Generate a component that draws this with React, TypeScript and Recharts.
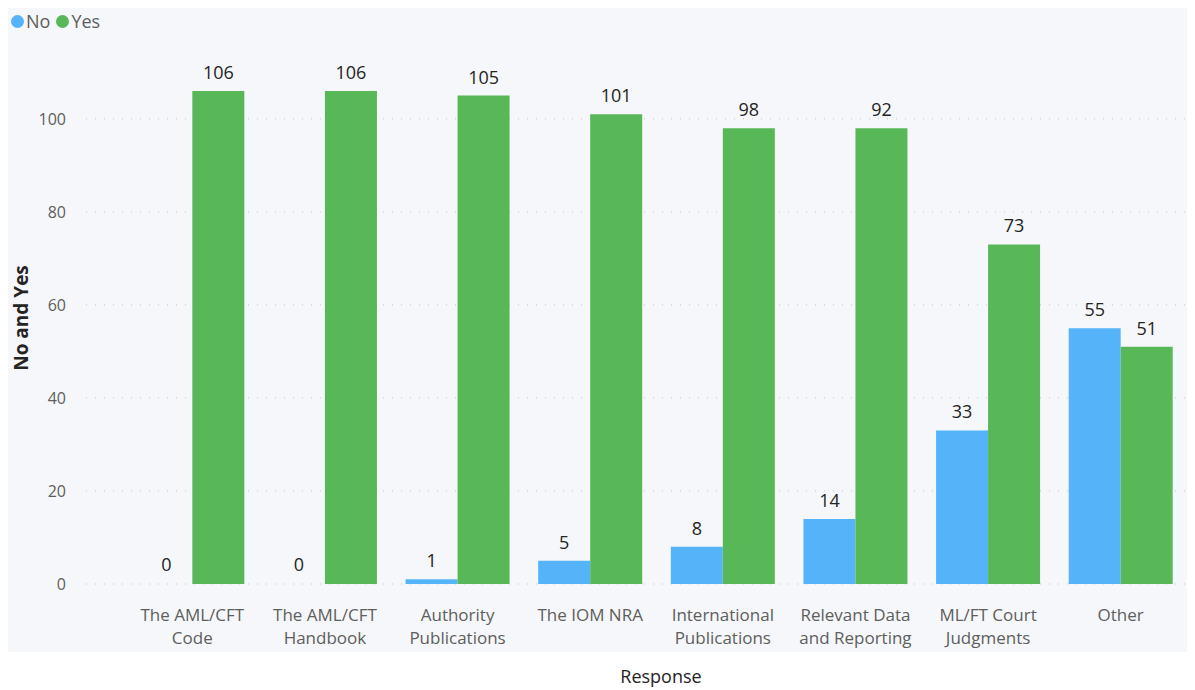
import React from 'react';
import { BarChart, Bar, XAxis, YAxis, CartesianGrid, LabelList, Rectangle } from 'recharts';

const categories = [
  'The AML/CFT Code',
  'The AML/CFT Handbook',
  'Authority Publications',
  'The IOM NRA',
  'International Publications',
  'Relevant Data and Reporting',
  'ML/FT Court Judgments',
  'Other',
];
const noValues = [0, 0, 1, 5, 8, 14, 33, 55];
const yesValues = [106, 106, 105, 101, 98, 98, 73, 51];
const yesLabels = ['106', '106', '105', '101', '98', '92', '73', '51'];
const yTicks = [0, 20, 40, 60, 80, 100];

const data = categories.map((c, i) => ({
  name: c,
  No: noValues[i],
  Yes: yesValues[i],
  noLabel: String(noValues[i]),
  yesLabel: yesLabels[i],
}));

const FONT = '"Segoe UI", "Open Sans", "DejaVu Sans", sans-serif';
const BLUE = '#55b4f9';
const GREEN = '#58b858';

function wrap(text: string, max: number): string[] {
  const words = text.split(' ');
  const lines: string[] = [];
  let cur = '';
  for (const w of words) {
    const t = cur ? cur + ' ' + w : w;
    if (t.length > max && cur) {
      lines.push(cur);
      cur = w;
    } else cur = t;
  }
  if (cur) lines.push(cur);
  return lines;
}

const XTick = (props: any) => {
  const { x, y, payload } = props;
  const lines = wrap(payload.value, 13);
  return (
    <text x={x} y={y + 29} textAnchor="middle" fill="#605e5c" fontSize={17} fontFamily={FONT}>
      {lines.map((l, i) => (
        <tspan key={i} x={x} dy={i === 0 ? 0 : 23}>
          {l}
        </tspan>
      ))}
    </text>
  );
};

const TopLabel = (props: any) => {
  const { x, y, width, value } = props;
  if (x == null || y == null) return null;
  return (
    <text x={x + width / 2} y={y - 12} textAnchor="middle" fill="#252423" fontSize={18} fontFamily={FONT}>
      {value}
    </text>
  );
};

const NoShape = (props: any) => {
  if (props.payload && props.payload.No === 0) return <g />;
  return <Rectangle {...props} />;
};

export default function App() {
  return (
    <div style={{ position: 'relative', width: 1187, height: 682, fontFamily: FONT }}>
      <div style={{ position: 'absolute', left: -1, top: 0, width: 1188, height: 644, background: '#f5f7fa' }} />
      <div style={{ position: 'absolute', left: 3, top: 1, display: 'flex', alignItems: 'center', fontSize: 18, color: '#605e5c' }}>
        <span style={{ display: 'inline-block', width: 13, height: 13, borderRadius: 7, background: BLUE, marginRight: 2 }} />
        <span style={{ marginRight: 6 }}>No</span>
        <span style={{ display: 'inline-block', width: 13, height: 13, borderRadius: 7, background: GREEN, marginRight: 2 }} />
        <span>Yes</span>
      </div>
      <div style={{ position: 'absolute', left: 0, top: 0 }}>
        <BarChart
          width={1187}
          height={682}
          data={data}
          margin={{ top: 55, right: 0, bottom: 0, left: 0 }}
          barCategoryGap="10.8%"
          barGap={0}
        >
          <CartesianGrid vertical={false} stroke="#c8c6c4" strokeDasharray="1 8" horizontalValues={yTicks} />
          <XAxis
            dataKey="name"
            axisLine={false}
            tickLine={false}
            tick={<XTick />}
            interval={0}
            height={106}
            padding={{ left: 40, right: 8 }}
            label={(p: any) => (
              <text x={653} y={675} textAnchor="middle" fill="#252423" fontSize={18} fontFamily={FONT}>
                Response
              </text>
            )}
          />
          <YAxis
            width={78}
            domain={[0, 112]}
            ticks={yTicks}
            axisLine={false}
            tickLine={false}
            tickMargin={14}
            tick={{ fill: '#605e5c', fontSize: 16, fontFamily: FONT }}
            label={(p: any) => (
              <text
                x={20}
                y={310}
                transform="rotate(-90 20 310)"
                textAnchor="middle"
                fill="#252423"
                fontSize={19}
                fontWeight="bold"
                fontFamily={FONT}
              >
                No and Yes
              </text>
            )}
          />
          <Bar dataKey="No" fill={BLUE} isAnimationActive={false} minPointSize={1} shape={<NoShape />}>
            <LabelList dataKey="noLabel" content={<TopLabel />} />
          </Bar>
          <Bar dataKey="Yes" fill={GREEN} isAnimationActive={false}>
            <LabelList dataKey="yesLabel" content={<TopLabel />} />
          </Bar>
        </BarChart>
      </div>
    </div>
  );
}
